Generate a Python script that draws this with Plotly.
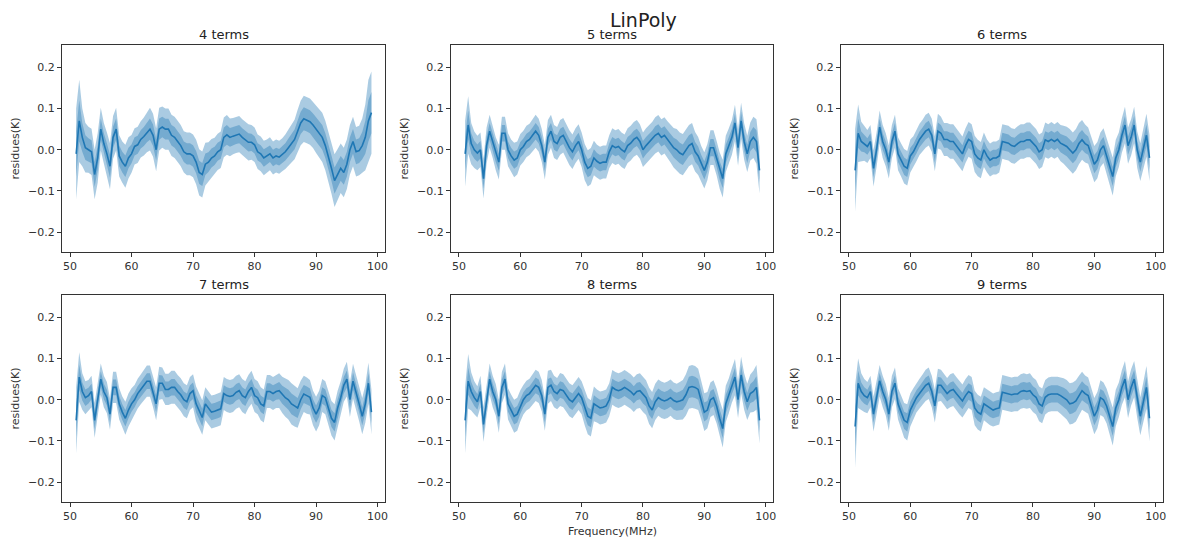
import numpy as np
import plotly.graph_objects as go

# Frequency grid (MHz), 51.0 .. 99.0 in 0.5 MHz steps (97 points)
freq = [51.0 + 0.5 * i for i in range(97)]

panel_titles = ["4 terms", "5 terms", "6 terms", "7 terms", "8 terms", "9 terms"]

# ---- mean residues (K) ----
mean_4 = [
    -0.010, 0.070, 0.030, 0.005, 0.000, -0.005, -0.060, -0.020, 0.050, 0.015,
    -0.010, -0.040, 0.030, 0.050, -0.015, -0.030, -0.040, -0.020, -0.010, 0.008,
    0.012, 0.025, 0.032, 0.042, 0.050, 0.035, 0.000, 0.050, 0.055, 0.050,
    0.050, 0.035, 0.030, 0.020, 0.010, -0.005, -0.010, -0.010, -0.015, -0.030,
    -0.055, -0.060, -0.035, -0.030, -0.020, -0.015, -0.005, 0.000, 0.030, 0.036,
    0.030, 0.033, 0.036, 0.038, 0.030, 0.025, 0.018, 0.018, 0.012, -0.005,
    -0.010, -0.020, -0.015, -0.010, -0.020, -0.015, -0.018, -0.012, -0.005, 0.005,
    0.015, 0.025, 0.045, 0.065, 0.075, 0.072, 0.068, 0.060, 0.050, 0.040,
    0.030, 0.010, -0.015, -0.045, -0.075, -0.060, -0.045, -0.055, -0.035, 0.000,
    0.020, -0.005, -0.002, 0.010, 0.030, 0.070, 0.090,
]
mean_5 = [
    -0.010, 0.060, 0.015, 0.000, -0.008, 0.000, -0.070, 0.010, 0.045, 0.020,
    -0.010, -0.030, 0.040, 0.040, 0.000, -0.015, -0.025, -0.020, 0.000, 0.008,
    0.020, 0.025, 0.035, 0.045, 0.035, 0.010, -0.030, 0.030, 0.045, 0.020,
    0.015, 0.030, 0.035, 0.020, 0.005, -0.005, 0.010, 0.020, 0.000, -0.030,
    -0.045, -0.040, -0.020, -0.028, -0.033, -0.030, -0.030, -0.005, 0.010, 0.005,
    0.008, 0.000, -0.005, 0.010, 0.016, 0.025, 0.030, 0.020, 0.000, 0.010,
    0.018, 0.025, 0.035, 0.040, 0.030, 0.035, 0.025, 0.015, 0.005, 0.000,
    -0.008, -0.012, 0.000, 0.010, 0.015, -0.005, -0.015, -0.035, -0.050, -0.030,
    0.005, 0.005, -0.020, -0.050, -0.070, -0.010, 0.010, 0.030, 0.065, 0.005,
    0.070, 0.020, -0.010, 0.020, 0.030, 0.020, -0.050,
]
mean_6 = [
    -0.050, 0.040, 0.020, 0.015, 0.008, 0.020, -0.045, 0.000, 0.055, 0.020,
    0.000, -0.030, 0.020, 0.045, -0.010, -0.025, -0.040, -0.045, -0.015, -0.005,
    0.010, 0.025, 0.035, 0.045, 0.050, 0.035, -0.010, 0.045, 0.040, 0.025,
    0.025, 0.020, 0.020, 0.010, 0.000, -0.010, 0.010, 0.025, 0.020, -0.010,
    -0.020, -0.025, 0.000, -0.015, -0.025, -0.020, -0.020, -0.015, 0.020, 0.018,
    0.016, 0.010, 0.008, 0.015, 0.020, 0.020, 0.024, 0.024, 0.015, 0.008,
    -0.005, 0.000, 0.024, 0.020, 0.025, 0.020, 0.025, 0.016, 0.012, 0.008,
    0.000, -0.008, 0.000, 0.015, 0.024, 0.015, 0.010, -0.015, -0.035, -0.025,
    0.000, 0.010, -0.015, -0.040, -0.065, -0.020, 0.000, 0.035, 0.060, 0.010,
    0.030, 0.060, 0.000, -0.030, 0.000, 0.035, -0.020,
]
mean_7 = [
    -0.050, 0.055, 0.020, 0.005, 0.010, 0.020, -0.050, 0.000, 0.050, 0.020,
    0.005, -0.035, 0.030, 0.030, -0.010, -0.030, -0.045, -0.025, -0.010, 0.000,
    0.015, 0.025, 0.035, 0.045, 0.045, 0.020, -0.010, 0.040, 0.040, 0.025,
    0.025, 0.030, 0.030, 0.020, 0.012, 0.000, -0.005, 0.015, 0.022, -0.010,
    -0.025, -0.043, -0.010, -0.020, -0.030, -0.028, -0.025, -0.022, 0.015, 0.010,
    0.008, 0.010, 0.018, 0.022, 0.010, 0.005, 0.020, 0.030, 0.010, 0.005,
    -0.010, -0.015, 0.020, 0.020, 0.015, 0.020, 0.022, 0.012, 0.005, 0.000,
    -0.010, -0.015, -0.020, 0.000, 0.014, 0.010, 0.006, -0.020, -0.035, -0.020,
    0.010, 0.005, -0.020, -0.045, -0.055, -0.020, 0.005, 0.035, 0.050, 0.000,
    0.045, 0.020, -0.010, -0.040, -0.010, 0.040, -0.030,
]
mean_8 = [
    -0.050, 0.045, 0.020, 0.005, -0.005, 0.020, -0.060, 0.000, 0.050, 0.020,
    0.000, -0.040, 0.030, 0.050, -0.010, -0.025, -0.040, -0.035, -0.015, 0.000,
    0.010, 0.015, 0.025, 0.035, 0.030, 0.010, -0.035, 0.030, 0.035, 0.020,
    0.015, 0.025, 0.022, 0.010, 0.000, -0.005, 0.005, 0.015, 0.005, -0.020,
    -0.040, -0.045, -0.010, -0.015, -0.020, -0.018, -0.015, 0.000, 0.030, 0.025,
    0.022, 0.025, 0.030, 0.025, 0.020, 0.012, 0.020, 0.022, 0.012, 0.005,
    -0.015, -0.025, -0.005, 0.005, 0.000, -0.003, 0.000, 0.005, -0.002, -0.005,
    -0.003, 0.000, 0.012, 0.030, 0.032, 0.030, 0.025, 0.000, -0.030, -0.025,
    0.000, 0.005, -0.015, -0.045, -0.070, -0.010, 0.010, 0.035, 0.055, 0.000,
    0.060, 0.020, -0.005, 0.015, 0.020, 0.030, -0.050,
]
mean_9 = [
    -0.065, 0.040, 0.020, 0.010, 0.005, 0.020, -0.035, 0.005, 0.046, 0.020,
    0.000, -0.035, 0.020, 0.040, -0.010, -0.030, -0.050, -0.055, -0.025, -0.010,
    0.005, 0.015, 0.025, 0.035, 0.040, 0.020, -0.015, 0.035, 0.035, 0.025,
    0.015, 0.022, 0.025, 0.015, 0.005, -0.003, 0.010, 0.020, 0.015, -0.020,
    -0.030, -0.035, -0.010, -0.015, -0.022, -0.025, -0.022, -0.020, 0.018, 0.016,
    0.014, 0.012, 0.014, 0.014, 0.020, 0.022, 0.020, 0.022, 0.012, 0.006,
    -0.010, -0.015, 0.006, 0.012, 0.014, 0.014, 0.014, 0.010, 0.006, 0.000,
    -0.010, -0.008, -0.003, 0.010, 0.022, 0.015, 0.010, -0.015, -0.040, -0.025,
    0.005, 0.000, -0.015, -0.040, -0.065, -0.020, 0.000, 0.030, 0.050, 0.000,
    0.030, 0.050, 0.000, -0.040, -0.005, 0.030, -0.045,
]

# ---- spread (1 sigma, K) ----
sigma_4 = [
    0.055, 0.050, 0.035, 0.030, 0.028, 0.028, 0.030, 0.030, 0.026, 0.025,
    0.026, 0.028, 0.026, 0.026, 0.025, 0.025, 0.026, 0.025, 0.023, 0.022,
    0.022, 0.022, 0.023, 0.024, 0.026, 0.026, 0.026, 0.026, 0.025, 0.025,
    0.025, 0.025, 0.025, 0.025, 0.025, 0.025, 0.026, 0.026, 0.026, 0.027,
    0.028, 0.028, 0.026, 0.024, 0.023, 0.022, 0.022, 0.022, 0.024, 0.024,
    0.023, 0.022, 0.022, 0.022, 0.022, 0.022, 0.022, 0.021, 0.021, 0.021,
    0.021, 0.021, 0.020, 0.020, 0.020, 0.020, 0.020, 0.020, 0.021, 0.022,
    0.023, 0.024, 0.026, 0.027, 0.028, 0.028, 0.028, 0.028, 0.029, 0.030,
    0.030, 0.030, 0.030, 0.031, 0.032, 0.031, 0.030, 0.030, 0.030, 0.030,
    0.030, 0.030, 0.030, 0.033, 0.040, 0.050, 0.050,
]
sigma_5 = [
    0.040, 0.035, 0.025, 0.022, 0.021, 0.021, 0.024, 0.022, 0.020, 0.020,
    0.020, 0.021, 0.020, 0.020, 0.020, 0.020, 0.021, 0.020, 0.019, 0.019,
    0.019, 0.019, 0.019, 0.020, 0.020, 0.020, 0.021, 0.021, 0.020, 0.020,
    0.020, 0.021, 0.021, 0.021, 0.021, 0.021, 0.021, 0.021, 0.021, 0.022,
    0.022, 0.022, 0.021, 0.020, 0.020, 0.020, 0.020, 0.020, 0.021, 0.021,
    0.021, 0.021, 0.021, 0.021, 0.021, 0.021, 0.021, 0.021, 0.021, 0.021,
    0.021, 0.021, 0.022, 0.022, 0.022, 0.022, 0.022, 0.023, 0.024, 0.025,
    0.025, 0.025, 0.025, 0.025, 0.025, 0.024, 0.023, 0.022, 0.022, 0.022,
    0.021, 0.021, 0.021, 0.022, 0.023, 0.022, 0.021, 0.021, 0.022, 0.022,
    0.022, 0.022, 0.022, 0.023, 0.025, 0.027, 0.028,
]
sigma_6 = [
    0.050, 0.035, 0.024, 0.021, 0.020, 0.020, 0.022, 0.021, 0.020, 0.020,
    0.020, 0.020, 0.020, 0.020, 0.020, 0.020, 0.021, 0.021, 0.020, 0.019,
    0.019, 0.019, 0.019, 0.020, 0.020, 0.020, 0.021, 0.021, 0.020, 0.020,
    0.020, 0.021, 0.021, 0.021, 0.021, 0.021, 0.021, 0.021, 0.021, 0.022,
    0.022, 0.022, 0.021, 0.020, 0.020, 0.020, 0.020, 0.020, 0.021, 0.021,
    0.021, 0.021, 0.021, 0.021, 0.021, 0.021, 0.021, 0.021, 0.021, 0.021,
    0.021, 0.021, 0.021, 0.021, 0.021, 0.021, 0.021, 0.022, 0.023, 0.024,
    0.025, 0.025, 0.025, 0.025, 0.024, 0.023, 0.022, 0.022, 0.022, 0.022,
    0.021, 0.021, 0.021, 0.022, 0.023, 0.022, 0.021, 0.021, 0.022, 0.022,
    0.022, 0.022, 0.022, 0.023, 0.024, 0.026, 0.028,
]
sigma_7 = [
    0.040, 0.030, 0.022, 0.020, 0.019, 0.019, 0.021, 0.020, 0.019, 0.019,
    0.019, 0.019, 0.019, 0.019, 0.019, 0.019, 0.020, 0.020, 0.019, 0.018,
    0.018, 0.018, 0.018, 0.019, 0.019, 0.019, 0.020, 0.020, 0.019, 0.019,
    0.019, 0.020, 0.020, 0.020, 0.020, 0.020, 0.020, 0.020, 0.020, 0.021,
    0.021, 0.021, 0.020, 0.020, 0.020, 0.020, 0.020, 0.020, 0.020, 0.020,
    0.020, 0.020, 0.020, 0.020, 0.020, 0.020, 0.020, 0.020, 0.020, 0.020,
    0.020, 0.020, 0.020, 0.020, 0.020, 0.020, 0.021, 0.022, 0.023, 0.024,
    0.025, 0.025, 0.024, 0.023, 0.022, 0.022, 0.021, 0.021, 0.021, 0.021,
    0.020, 0.020, 0.020, 0.021, 0.022, 0.021, 0.020, 0.020, 0.021, 0.021,
    0.021, 0.021, 0.021, 0.022, 0.023, 0.025, 0.027,
]
sigma_8 = [
    0.040, 0.033, 0.023, 0.020, 0.019, 0.019, 0.021, 0.020, 0.019, 0.019,
    0.019, 0.020, 0.019, 0.019, 0.019, 0.019, 0.020, 0.020, 0.019, 0.018,
    0.018, 0.018, 0.018, 0.019, 0.019, 0.019, 0.020, 0.020, 0.019, 0.019,
    0.019, 0.020, 0.020, 0.020, 0.020, 0.020, 0.020, 0.020, 0.020, 0.021,
    0.022, 0.022, 0.021, 0.020, 0.020, 0.020, 0.020, 0.020, 0.021, 0.021,
    0.021, 0.021, 0.021, 0.021, 0.021, 0.021, 0.021, 0.021, 0.021, 0.021,
    0.022, 0.022, 0.022, 0.022, 0.022, 0.022, 0.022, 0.022, 0.022, 0.022,
    0.023, 0.024, 0.025, 0.026, 0.026, 0.026, 0.025, 0.024, 0.023, 0.022,
    0.021, 0.021, 0.021, 0.022, 0.023, 0.022, 0.021, 0.021, 0.022, 0.022,
    0.022, 0.022, 0.022, 0.023, 0.025, 0.027, 0.028,
]
sigma_9 = [
    0.050, 0.030, 0.022, 0.020, 0.019, 0.019, 0.021, 0.020, 0.019, 0.019,
    0.019, 0.020, 0.019, 0.019, 0.019, 0.020, 0.021, 0.022, 0.020, 0.019,
    0.018, 0.018, 0.018, 0.019, 0.019, 0.019, 0.020, 0.020, 0.019, 0.019,
    0.019, 0.020, 0.020, 0.020, 0.020, 0.020, 0.020, 0.020, 0.020, 0.021,
    0.021, 0.021, 0.020, 0.020, 0.020, 0.020, 0.020, 0.020, 0.021, 0.021,
    0.021, 0.021, 0.021, 0.021, 0.021, 0.021, 0.021, 0.021, 0.021, 0.021,
    0.021, 0.021, 0.021, 0.021, 0.021, 0.021, 0.021, 0.022, 0.023, 0.024,
    0.025, 0.025, 0.025, 0.024, 0.023, 0.022, 0.022, 0.022, 0.022, 0.022,
    0.021, 0.021, 0.021, 0.022, 0.023, 0.022, 0.021, 0.021, 0.022, 0.022,
    0.022, 0.022, 0.022, 0.023, 0.024, 0.026, 0.028,
]

means = [mean_4, mean_5, mean_6, mean_7, mean_8, mean_9]
sigmas = [sigma_4, sigma_5, sigma_6, sigma_7, sigma_8, sigma_9]

x_ticks = [50, 60, 70, 80, 90, 100]
y_ticks = [-0.2, -0.1, 0.0, 0.1, 0.2]

# The page puts the figure 8 px in from the top-left corner, so the figure is
# drawn 16 px smaller and every target pixel position is shifted by 8 px.
OFF = 8
W, H = 1178 - 2 * OFF, 545 - 2 * OFF
# panel boxes in window pixels (left, right, top, bottom)
cols_px = [(62, 385), (451, 773), (841, 1163)]
rows_px = [(45, 252), (295, 502)]


def px_x(v):
    return (v - OFF) / W


def px_y(v):
    return 1 - (v - OFF) / H


BLUE = "#1f77b4"
fig = go.Figure()

for k in range(6):
    r, c = divmod(k, 3)
    ax = k + 1
    xa = "x" if ax == 1 else f"x{ax}"
    ya = "y" if ax == 1 else f"y{ax}"
    fx = np.array(freq)
    m = np.array(means[k])
    s = np.array(sigmas[k])
    for nsig in (2, 1):
        up = m + nsig * s
        lo = m - nsig * s
        fig.add_trace(go.Scatter(
            x=np.concatenate([fx, fx[::-1]]),
            y=np.concatenate([up, lo[::-1]]),
            fill="toself", fillcolor="rgba(31,119,180,0.38)",
            line=dict(width=0), mode="lines", hoverinfo="skip",
            showlegend=False, xaxis=xa, yaxis=ya,
        ))
    fig.add_trace(go.Scatter(
        x=fx, y=m, mode="lines", line=dict(color=BLUE, width=1.6),
        showlegend=False, xaxis=xa, yaxis=ya,
    ))

    l, rr = cols_px[c]
    t, b = rows_px[r]
    axis_common = dict(
        showline=True, linecolor="#333", linewidth=1, mirror=True,
        ticks="outside", ticklen=4, tickcolor="#333", showgrid=False,
        zeroline=False, automargin=False,
        tickfont=dict(family="DejaVu Sans", size=11, color="#333"),
    )
    fig.layout[f"xaxis{'' if ax == 1 else ax}"] = dict(
        domain=[px_x(l), px_x(rr)], anchor=ya, range=[48.7, 101.2],
        tickvals=x_ticks, ticktext=[str(v) for v in x_ticks], **axis_common,
    )
    fig.layout[f"yaxis{'' if ax == 1 else ax}"] = dict(
        domain=[px_y(b), px_y(t)], anchor=xa, range=[-0.248, 0.254],
        tickvals=y_ticks, tickformat=".1f",
        title=dict(text="residues(K)", font=dict(family="DejaVu Sans", size=11, color="#333"), standoff=6),
        **axis_common,
    )
    fig.add_annotation(
        text=panel_titles[k], x=px_x((l + rr) / 2), y=px_y(t - 2),
        xref="paper", yref="paper", xanchor="center", yanchor="bottom",
        showarrow=False, borderpad=0,
        font=dict(family="DejaVu Sans", size=13, color="#222"),
    )

fig.add_annotation(
    text="LinPoly", x=px_x(643), y=px_y(8), xref="paper", yref="paper",
    xanchor="center", yanchor="top", showarrow=False, borderpad=0,
    font=dict(family="DejaVu Sans", size=19, color="#222"),
)
fig.add_annotation(
    text="Frequency(MHz)", x=px_x((451 + 773) / 2), y=px_y(540),
    xref="paper", yref="paper", xanchor="center", yanchor="bottom",
    showarrow=False, font=dict(family="DejaVu Sans", size=11, color="#333"),
)

fig.update_layout(
    width=W, height=H, margin=dict(l=0, r=0, t=0, b=0, autoexpand=False),
    plot_bgcolor="white", paper_bgcolor="white", showlegend=False,
)

fig.write_html("out.html")
